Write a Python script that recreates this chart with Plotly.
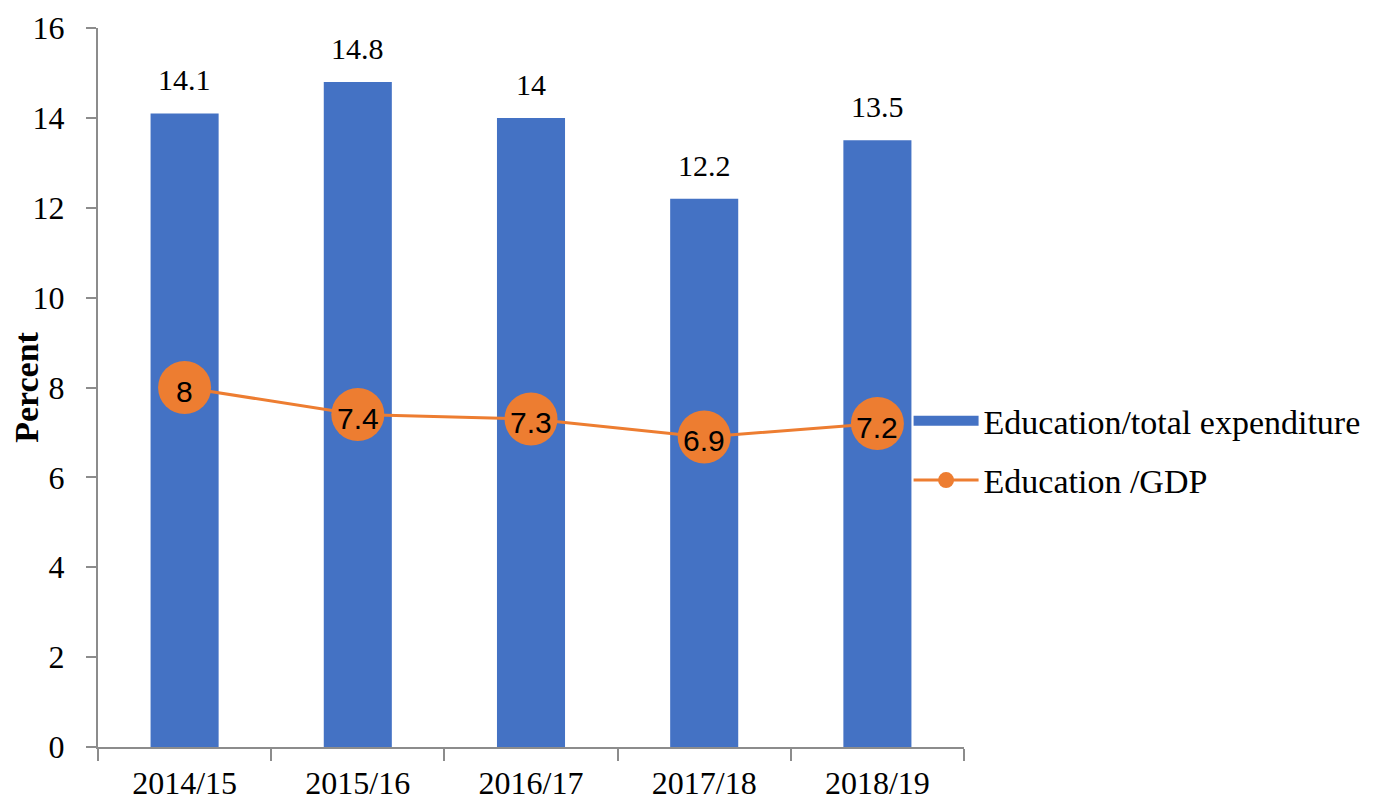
import plotly.graph_objects as go

categories = ["2014/15", "2015/16", "2016/17", "2017/18", "2018/19"]
edu_total = [14.1, 14.8, 14.0, 12.2, 13.5]
edu_gdp = [8.0, 7.4, 7.3, 6.9, 7.2]
bar_labels = ["14.1", "14.8", "14", "12.2", "13.5"]
gdp_labels = ["8", "7.4", "7.3", "6.9", "7.2"]
y_ticks = [0, 2, 4, 6, 8, 10, 12, 14, 16]

BLUE = "#4472C4"
ORANGE = "#ED7D31"
SERIF = "Liberation Serif, Times New Roman, serif"
SANS = "Liberation Sans, Arial, sans-serif"

fig = go.Figure()
fig.add_trace(go.Bar(
    x=categories, y=edu_total, marker=dict(color=BLUE, line=dict(width=0)),
    showlegend=False, name="Education/total expenditure",
))
fig.add_trace(go.Scatter(
    x=categories, y=edu_gdp, mode="lines+markers",
    line=dict(color=ORANGE, width=3),
    marker=dict(color=ORANGE, size=53),
    showlegend=False, name="Education /GDP",
))
# legend-only entries
fig.add_trace(go.Scatter(
    x=[None], y=[None], mode="lines", line=dict(color=BLUE, width=13),
    name="Education/total expenditure", legendgroup="a",
))
fig.add_trace(go.Scatter(
    x=[None], y=[None], mode="lines+markers", line=dict(color=ORANGE, width=3),
    marker=dict(color=ORANGE, size=16), name="Education /GDP", legendgroup="b",
))

for c, v, t in zip(categories, edu_total, bar_labels):
    fig.add_annotation(x=c, y=v, text=t, showarrow=False, yanchor="bottom",
                       yshift=15, font=dict(family=SERIF, size=30, color="#000000"))

for c, v, t in zip(categories, edu_gdp, gdp_labels):
    fig.add_annotation(x=c, y=v, text=t, showarrow=False, yanchor="middle",
                       yshift=-4, font=dict(family=SANS, size=30, color="#000000"))

fig.update_layout(
    width=1370, height=792,
    margin=dict(l=90, r=414, t=20, b=53),
    paper_bgcolor="white", plot_bgcolor="white",
    bargap=0.607,
    font=dict(family=SERIF, size=30, color="#000000"),
    legend=dict(x=0.936, xanchor="left", y=0.412, yanchor="middle",
                font=dict(family=SERIF, size=34, color="#000000"),
                itemwidth=65, traceorder="grouped", tracegroupgap=12,
                bgcolor="rgba(0,0,0,0)"),
)
fig.update_xaxes(
    type="category", range=[-0.5, 4.5], showline=True, linecolor="#8c8c8c", linewidth=2,
    ticks="outside", ticklen=12, tickcolor="#8c8c8c", tickwidth=2, tickson="boundaries",
    ticklabelstandoff=7,
    showgrid=False, automargin=False, tickfont=dict(family=SERIF, size=32, color="#000000"),
)
fig.update_yaxes(
    range=[0, 16], tickvals=y_ticks, showline=True, linecolor="#8c8c8c", linewidth=2,
    ticks="outside", ticklen=10, tickcolor="#8c8c8c", tickwidth=2, ticklabelstandoff=15,
    showgrid=False, zeroline=False, automargin=False,
    tickfont=dict(family=SERIF, size=32, color="#000000"),
    title=dict(text="<b>Percent</b>", font=dict(family=SERIF, size=34, color="#000000"), standoff=4),
)

fig.write_html("out.html")
